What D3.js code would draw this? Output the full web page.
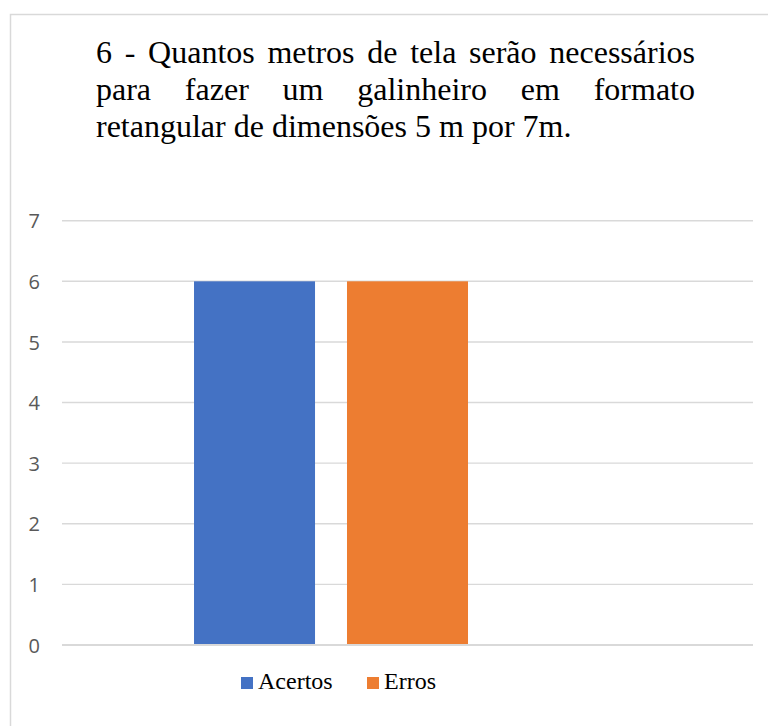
<!DOCTYPE html>
<html>
<head>
<meta charset="utf-8">
<script src="https://cdn.jsdelivr.net/npm/d3@7"></script>
<style>
  html, body { margin: 0; padding: 0; background: #fff; }
  svg { display: block; }
  .serif { font-family: "Liberation Serif", "Times New Roman", serif; }
  .axis-label { font-family: "Open Sans", "Noto Sans", sans-serif; }
</style>
</head>
<body>
<svg id="chart" width="768" height="726"></svg>
<script>
// Chart data
const titleLines = [
  "6 - Quantos metros de tela serão necessários",
  "para fazer um galinheiro em formato",
  "retangular de dimensões 5 m por 7m."
];
const categories = [""];
const seriesNames = ["Acertos", "Erros", "Série 3"];
const seriesValues = [6, 6, null];
const seriesColors = ["#4472C4", "#ED7D31", "#A5A5A5"];
const yTicks = [0, 1, 2, 3, 4, 5, 6, 7];

const svg = d3.select("#chart");
const W = 768, H = 726;

// Chart area frame (continues past the right and bottom edges)
svg.append("rect")
  .attr("x", 10.5).attr("y", 14.5)
  .attr("width", W + 20).attr("height", H + 20)
  .attr("fill", "#fff")
  .attr("stroke", "#d9d9d9")
  .attr("stroke-width", 1.5);

// Title: justified block, last line left-aligned
const titleLeft = 96, titleRight = 695, titleTop = 63, lineStep = 37;
const titleG = svg.append("g");
titleLines.forEach((line, i) => {
  const words = line.split(" ");
  const y = titleTop + i * lineStep;
  const nodes = words.map(w => titleG.append("text")
    .attr("class", "serif")
    .attr("y", y)
    .attr("font-size", 32)
    .attr("fill", "#000")
    .text(w));
  const widths = nodes.map(n => n.node().getComputedTextLength());
  const spaceW = 8;
  const last = i === titleLines.length - 1;
  const gap = last ? spaceW
    : (titleRight - titleLeft - d3.sum(widths)) / (words.length - 1);
  let x = titleLeft;
  nodes.forEach((n, j) => { n.attr("x", x); x += widths[j] + gap; });
});

// Plot area
const plot = { left: 62, right: 753, top: 220.7, bottom: 645 };

const y = d3.scaleLinear().domain([0, 7]).range([plot.bottom, plot.top]);
const x0 = d3.scaleBand().domain(categories).range([plot.left, plot.right]).padding(0);
const x1 = d3.scaleBand().domain(seriesNames)
  .range([0, x0.bandwidth()])
  .paddingInner(0.209)
  .paddingOuter(0.863);

// Horizontal gridlines
svg.append("g")
  .selectAll("line")
  .data(yTicks)
  .join("line")
  .attr("x1", plot.left).attr("x2", plot.right)
  .attr("y1", d => y(d)).attr("y2", d => y(d))
  .attr("stroke", "#d9d9d9")
  .attr("stroke-width", d => d === 0 ? 2 : 1.4);

// Y axis labels
const yAxis = d3.axisLeft(y).tickValues(yTicks).tickFormat(d3.format("d"))
  .tickSize(0).tickPadding(0);
const yAxisG = svg.append("g")
  .attr("transform", "translate(40,0)")
  .call(yAxis);
yAxisG.select(".domain").remove();
yAxisG.selectAll("text")
  .attr("class", "axis-label")
  .attr("font-size", 20)
  .attr("fill", "#595959")
  .attr("dy", "0.36em");

// Bars
const barData = seriesNames.map((s, i) => ({ series: s, value: seriesValues[i], color: seriesColors[i] }))
  .filter(d => d.value != null);
svg.append("g")
  .selectAll("g")
  .data(categories)
  .join("g")
  .attr("transform", c => `translate(${x0(c)},0)`)
  .selectAll("rect")
  .data(barData)
  .join("rect")
  .attr("x", d => x1(d.series))
  .attr("width", x1.bandwidth())
  .attr("y", d => y(d.value))
  .attr("height", d => y(0) - y(d.value))
  .attr("fill", d => d.color);

// Redraw the zero line above the bar bottoms
svg.append("line")
  .attr("x1", plot.left).attr("x2", plot.right)
  .attr("y1", y(0)).attr("y2", y(0))
  .attr("stroke", "#d9d9d9").attr("stroke-width", 2);

// Legend
const legendItems = barData.map(d => d.series);
const legendX = [241, 367];
const legend = svg.append("g");
legendItems.forEach((name, i) => {
  const g = legend.append("g").attr("transform", `translate(${legendX[i]},677)`);
  g.append("rect").attr("width", 12).attr("height", 12).attr("fill", seriesColors[i]);
  g.append("text")
    .attr("class", "serif")
    .attr("x", 17).attr("y", 12)
    .attr("font-size", 24)
    .attr("fill", "#000")
    .text(name);
});
</script>
</body>
</html>
